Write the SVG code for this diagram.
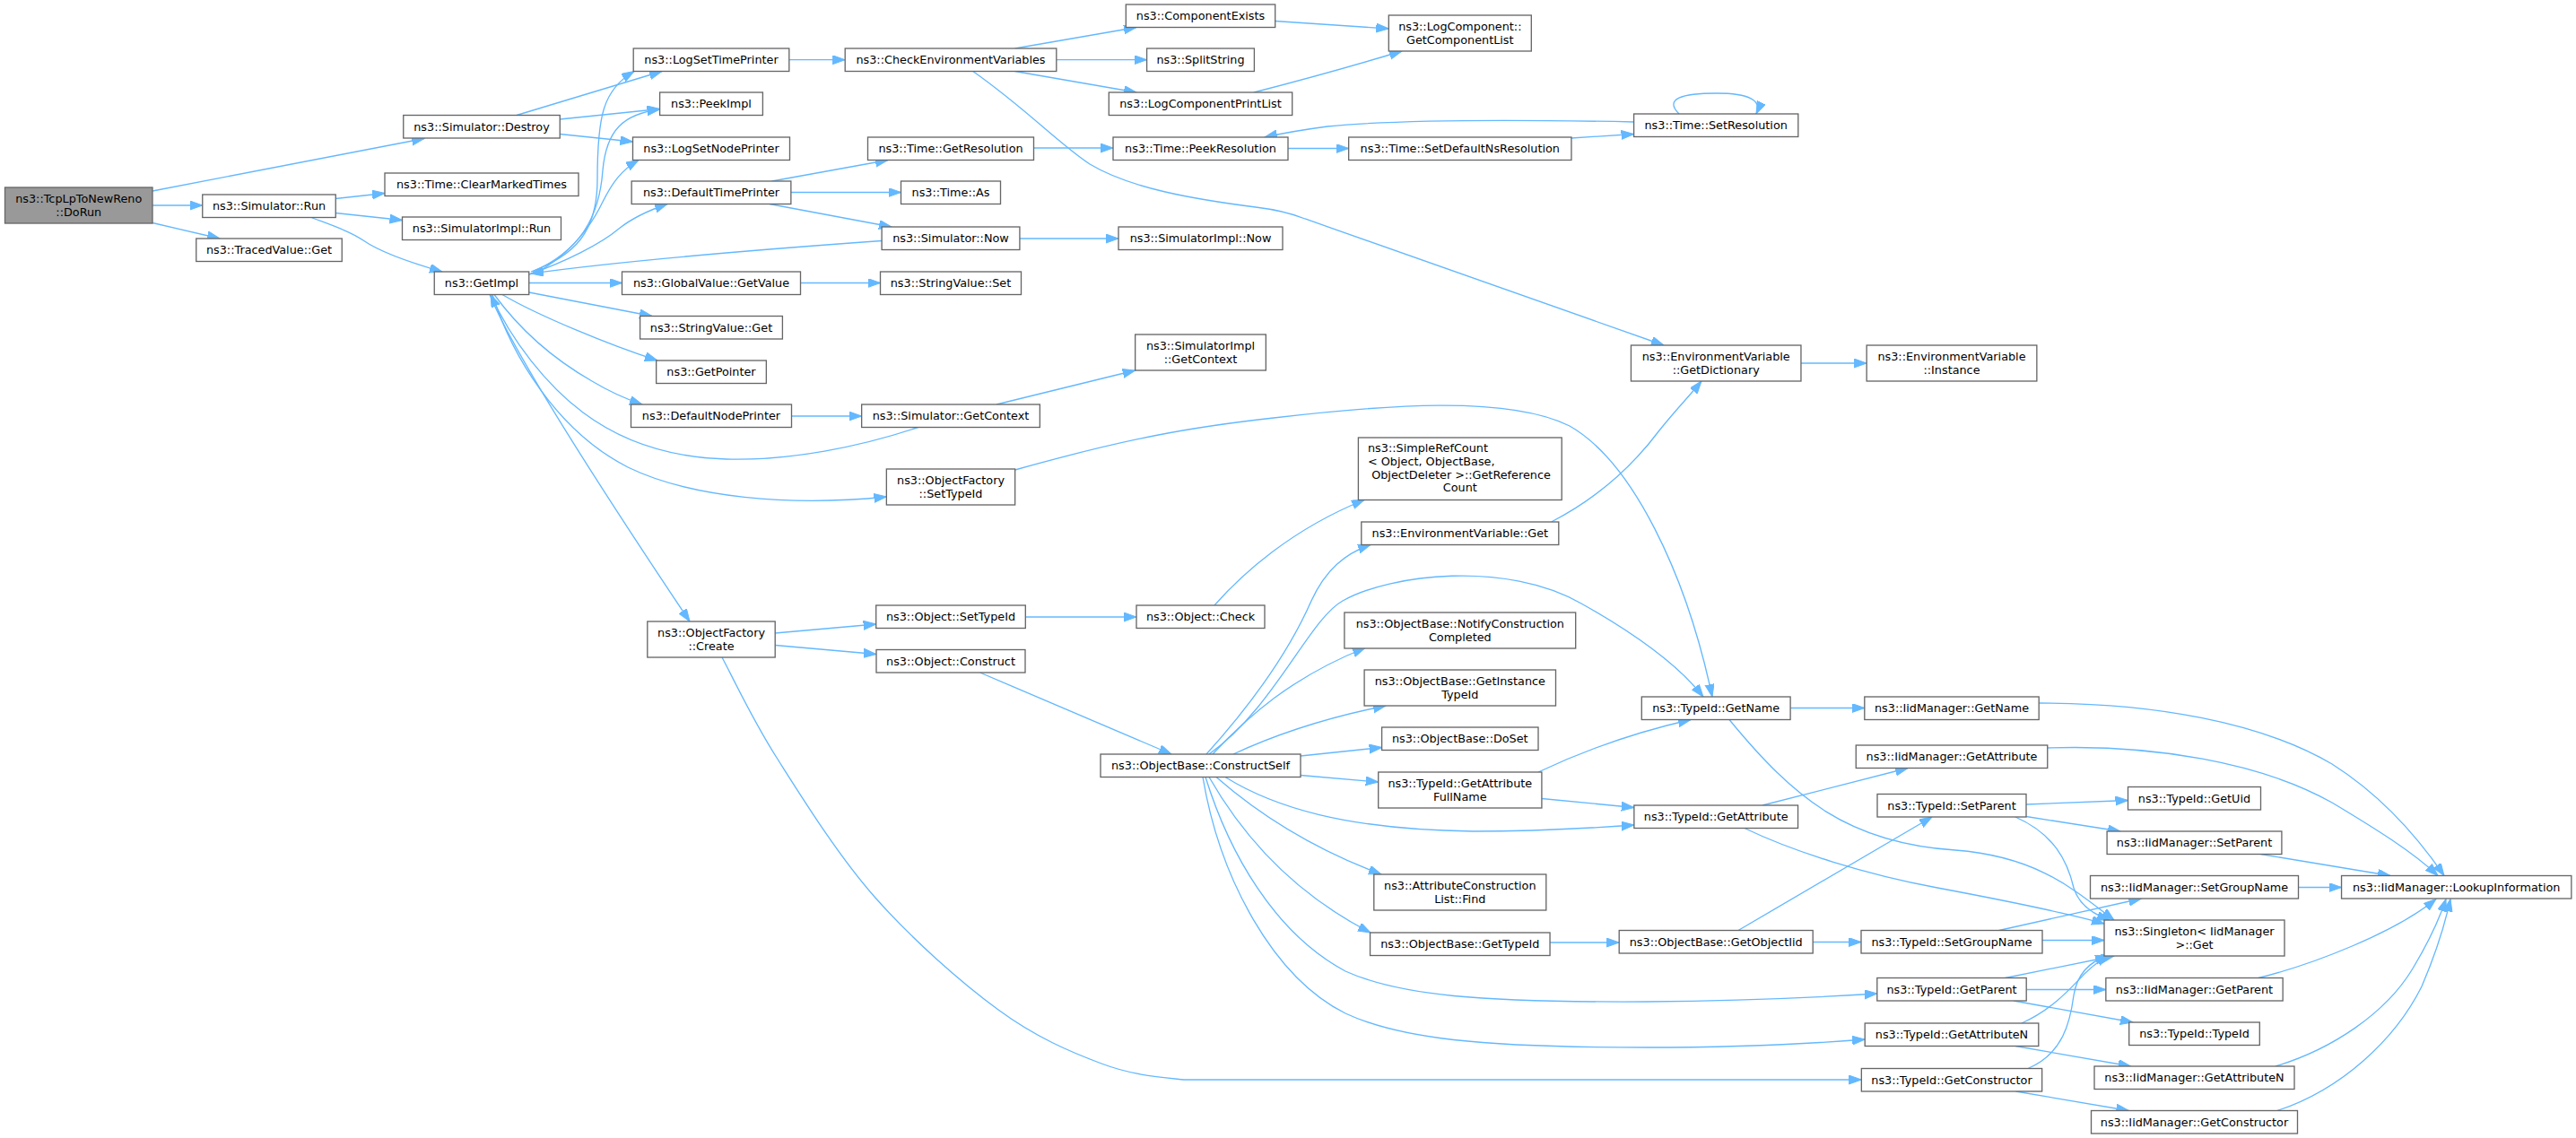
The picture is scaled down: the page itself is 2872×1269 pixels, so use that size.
<svg xmlns="http://www.w3.org/2000/svg" width="2872" height="1269" viewBox="0 0 2872 1269">
<defs>
<marker id="ah" markerUnits="userSpaceOnUse" markerWidth="15" markerHeight="11" refX="14" refY="5" orient="auto">
<path d="M0,0 L14,5 L0,10 z" fill="#63B8FF" stroke="#63B8FF" stroke-width="1"/>
</marker>
<style>
.n rect{fill:#fff;stroke:#666;stroke-width:1.33}
.root rect{fill:#999}
text{font-family:"DejaVu Sans","Liberation Sans",sans-serif;font-size:12.8px;fill:#000;text-anchor:middle}
text.l{text-anchor:start}
#edges path{fill:none;stroke:#63B8FF;stroke-width:1.33;marker-end:url(#ah)}
</style>
</defs>
<rect width="2872" height="1269" fill="#fff"/>
<g id="edges">
<path d="M170,213 L473,154.5"/>
<path d="M170,229 L225.75,229"/>
<path d="M170,248.5 L245,266"/>
<path d="M374,221.5 L429,215.5"/>
<path d="M374,237.5 L448.5,245.5"/>
<path d="M347,242.5 C372,252 390,258 405,268 C425,282 465,295 493,303"/>
<path d="M576,128.5 L738,79.5"/>
<path d="M624.25,133 L735.6,121.5"/>
<path d="M624.25,149.5 L705.5,158"/>
<path d="M592,303 C640,285 666,260 666,200 C666,130 672,100 707,79.5"/>
<path d="M594,303 C645,280 668,245 672,190 C676,145 695,127 735.6,122"/>
<path d="M600,303 C640,280 660,250 672,225 C682,205 692,190 712,178.5"/>
<path d="M590,306 C630,292 670,272 690,255 C705,243 725,234 744,227.5"/>
<path d="M983,268.5 C850,278 700,290 592,305"/>
<path d="M589.75,315.5 L693.5,315.5"/>
<path d="M589.75,326 L727,352.5"/>
<path d="M560,328.5 C600,352 680,385 733,402"/>
<path d="M551,328.5 C585,375 625,405 660,425 C680,437 698,445 716,451"/>
<path d="M1023.6,476.5 C960,498 880,514 810,512 C740,510 690,490 650,460 C610,430 570,380 547,328.5"/>
<path d="M549,328.5 C570,395 620,480 700,521 C770,555 880,565 988.35,554"/>
<path d="M546,328.5 C575,400 700,590 769,693"/>
<path d="M882.5,464 L960.65,464"/>
<path d="M1111,451 L1265.65,413"/>
<path d="M1131.65,524 C1260,488 1330,476 1420,466 C1540,452 1680,440 1750,475 C1820,515 1880,640 1909,777"/>
<path d="M864.2,706 L976.7,696"/>
<path d="M864.2,719.5 L977,729.5"/>
<path d="M805,733 C815.2,751.7 837.7,800.5 866,845 C894.3,889.5 933.8,953.2 975,1000 C1016.2,1046.8 1070.8,1095 1113,1126 C1155.2,1157 1193.5,1173 1228,1186 C1262.5,1199 1291.3,1201 1320,1204 L2075.35,1204"/>
<path d="M1143.3,688 L1267,688"/>
<path d="M1354,675 C1385,640 1440,590 1521,557.5"/>
<path d="M1092.6,750 L1306,841"/>
<path d="M1345,841 C1400,780 1440,720 1462,670 C1478,635 1500,617 1528,607.5"/>
<path d="M1348,841 C1420,790 1460,690 1497,670 C1550,640 1680,625 1763,673 C1820,705 1870,740 1899,777"/>
<path d="M1352,841 C1390,800 1440,755 1522,722.5"/>
<path d="M1375,841 C1420,820 1480,800 1545,787"/>
<path d="M1450,843 L1540.6,833.5"/>
<path d="M1450,864.5 L1536.7,872"/>
<path d="M1366,866.5 C1420,900 1500,925 1642,927 C1720,927 1780,923 1821.85,920"/>
<path d="M1356,866.5 C1400,905 1460,945 1540,975"/>
<path d="M1348,866.5 C1390,940 1450,1000 1528,1040"/>
<path d="M1344,866.5 C1370,950 1420,1040 1500,1083 C1560,1110 1650,1118 1836,1117 C1950,1116 2030,1112 2092.8,1108"/>
<path d="M1341,866.5 C1360,980 1420,1090 1500,1130 C1560,1158 1650,1168 1836,1168 C1950,1168 2030,1163 2079.2,1159"/>
<path d="M879.8,66.7 L942.2,66.7"/>
<path d="M1131.6,54 L1267,30.5"/>
<path d="M1177.8,66.7 L1278.6,66.7"/>
<path d="M1131.6,79.5 L1267,103"/>
<path d="M1084.8,79.5 C1145,122 1180,160 1215,183 C1260,210 1330,222 1400,231 C1425,234 1440,238 1455,244 L1855,385"/>
<path d="M1421.7,23.5 L1548.3,32"/>
<path d="M1398,103 C1460,87 1520,70 1563,57"/>
<path d="M1152.5,165 L1241,165"/>
<path d="M1436,165.5 L1503.65,165.5"/>
<path d="M1751.95,154 L1821.6,149.5"/>
<path d="M1821.6,136 C1700,133.5 1560,133 1480,141 C1450,145 1428,149 1410,153"/>
<path d="M1872,127 C1855,110 1875,104 1914,104 C1950,104 1965,112 1958,127"/>
<path d="M1136.9,266 L1247,266"/>
<path d="M892.5,315.5 L981.5,315.5"/>
<path d="M860.7,202 L990,178.5"/>
<path d="M881.85,214.5 L1004.5,214.5"/>
<path d="M858,227.5 L994,253"/>
<path d="M1729.6,582 C1780,556 1820,520 1850,480 C1870,455 1885,440 1897,425"/>
<path d="M2007.95,405 L2081.15,405"/>
<path d="M1996.1,789.5 L2078.8,789.5"/>
<path d="M1928,802.5 C2000,890 2060,940 2180,948 C2270,955 2310,990 2357,1026"/>
<path d="M2273.2,784 C2400,784 2520,805 2600,852 C2660,890 2700,940 2725,976.5"/>
<path d="M2282.75,834 C2400,830 2520,850 2600,895 C2650,925 2690,950 2718,976.5"/>
<path d="M1715,861 C1770,835 1830,815 1885,802.5"/>
<path d="M1718.9,890.5 L1821.85,900.5"/>
<path d="M1965,898 L2127,856.5"/>
<path d="M1945,923.5 C2000,950 2080,975 2160,990 C2240,1005 2300,1017 2346,1030"/>
<path d="M1728.05,1051 L1805.2,1051"/>
<path d="M1938,1037.5 L2154,911"/>
<path d="M2021.2,1050.5 L2075,1050.5"/>
<path d="M2259,897 L2372.5,892.5"/>
<path d="M2259,910.5 L2364,927"/>
<path d="M2247,911 C2290,930 2305,960 2312,990 C2318,1010 2335,1020 2352,1026"/>
<path d="M2520.4,952.5 L2665,976.5"/>
<path d="M2228.7,1037.5 L2387.4,1002"/>
<path d="M2277,1048.5 L2346,1048.5"/>
<path d="M2562.5,989.5 L2610.55,989.5"/>
<path d="M2235.7,1090.5 L2357,1066"/>
<path d="M2259.2,1103.5 L2347.85,1103.5"/>
<path d="M2245,1116 L2378,1140"/>
<path d="M2518,1090.5 C2580,1075 2670,1040 2716,1002.5"/>
<path d="M2254,1141 C2290,1125 2310,1100 2325,1085 C2335,1075 2343,1070 2352,1066"/>
<path d="M2247,1166.5 L2375.7,1189"/>
<path d="M2261,1191.5 C2300,1175 2308,1140 2312,1110 C2316,1085 2330,1072 2350,1066"/>
<path d="M2247.4,1217 L2373.4,1238.5"/>
<path d="M2537,1189 C2600,1170 2660,1130 2690,1080 C2705,1055 2718,1030 2727,1002.5"/>
<path d="M2539,1238.5 C2610,1215 2670,1160 2700,1100 C2715,1065 2725,1035 2732,1002.5"/>
</g>
<g id="n_dorun" class="n root"><rect x="5.5" y="209" width="164.5" height="40"/><text x="87.75" y="225.9">ns3::TcpLpToNewReno</text><text x="87.75" y="240.6">::DoRun</text></g>
<g id="n_simrun" class="n"><rect x="225.75" y="217" width="148.5" height="25.5"/><text x="300" y="234.4">ns3::Simulator::Run</text></g>
<g id="n_tracedget" class="n"><rect x="218.75" y="266" width="162.5" height="25.5"/><text x="300" y="283.4">ns3::TracedValue::Get</text></g>
<g id="n_destroy" class="n"><rect x="449.75" y="128.5" width="174.5" height="25.5"/><text x="537" y="145.9">ns3::Simulator::Destroy</text></g>
<g id="n_clearmarked" class="n"><rect x="429" y="193" width="216" height="25.5"/><text x="537" y="210.4">ns3::Time::ClearMarkedTimes</text></g>
<g id="n_simimplrun" class="n"><rect x="448.5" y="242" width="177" height="25.5"/><text x="537" y="259.4">ns3::SimulatorImpl::Run</text></g>
<g id="n_getimpl" class="n"><rect x="484.25" y="303" width="105.5" height="25.5"/><text x="537" y="320.4">ns3::GetImpl</text></g>
<g id="n_logsettime" class="n"><rect x="706.2" y="54" width="173.6" height="25.5"/><text x="793" y="71.4">ns3::LogSetTimePrinter</text></g>
<g id="n_peekimpl" class="n"><rect x="735.6" y="103" width="114.8" height="25.5"/><text x="793" y="120.4">ns3::PeekImpl</text></g>
<g id="n_logsetnode" class="n"><rect x="705.5" y="153" width="175" height="25.5"/><text x="793" y="170.4">ns3::LogSetNodePrinter</text></g>
<g id="n_deftime" class="n"><rect x="704.15" y="202" width="177.7" height="25.5"/><text x="793" y="219.4">ns3::DefaultTimePrinter</text></g>
<g id="n_globalgetvalue" class="n"><rect x="693.5" y="303" width="199" height="25.5"/><text x="793" y="320.4">ns3::GlobalValue::GetValue</text></g>
<g id="n_stringget" class="n"><rect x="713.6" y="352.5" width="158.8" height="25.5"/><text x="793" y="369.9">ns3::StringValue::Get</text></g>
<g id="n_getpointer" class="n"><rect x="731.65" y="402" width="122.7" height="25.5"/><text x="793" y="419.4">ns3::GetPointer</text></g>
<g id="n_defnode" class="n"><rect x="703.5" y="451" width="179" height="25.5"/><text x="793" y="468.4">ns3::DefaultNodePrinter</text></g>
<g id="n_ofcreate" class="n"><rect x="721.8" y="693" width="142.4" height="40"/><text x="793" y="709.9">ns3::ObjectFactory</text><text x="793" y="724.6">::Create</text></g>
<g id="n_checkenv" class="n"><rect x="942.2" y="54" width="235.6" height="25.5"/><text x="1060" y="71.4">ns3::CheckEnvironmentVariables</text></g>
<g id="n_getres" class="n"><rect x="967.5" y="153" width="185" height="25.5"/><text x="1060" y="170.4">ns3::Time::GetResolution</text></g>
<g id="n_timeas" class="n"><rect x="1004.5" y="202" width="111" height="25.5"/><text x="1060" y="219.4">ns3::Time::As</text></g>
<g id="n_simnow" class="n"><rect x="983.1" y="253" width="153.8" height="25.5"/><text x="1060" y="270.4">ns3::Simulator::Now</text></g>
<g id="n_stringset" class="n"><rect x="981.5" y="303" width="157" height="25.5"/><text x="1060" y="320.4">ns3::StringValue::Set</text></g>
<g id="n_simgetctx" class="n"><rect x="960.65" y="451" width="198.7" height="25.5"/><text x="1060" y="468.4">ns3::Simulator::GetContext</text></g>
<g id="n_ofsettypeid" class="n"><rect x="988.35" y="523" width="143.3" height="40"/><text x="1060" y="539.9">ns3::ObjectFactory</text><text x="1060" y="554.6">::SetTypeId</text></g>
<g id="n_objsettypeid" class="n"><rect x="976.7" y="675" width="166.6" height="25.5"/><text x="1060" y="692.4">ns3::Object::SetTypeId</text></g>
<g id="n_objconstruct" class="n"><rect x="977" y="724.5" width="166" height="25.5"/><text x="1060" y="741.9">ns3::Object::Construct</text></g>
<g id="n_compexists" class="n"><rect x="1255.3" y="5" width="166.4" height="25.5"/><text x="1338.5" y="22.4">ns3::ComponentExists</text></g>
<g id="n_splitstring" class="n"><rect x="1278.6" y="54" width="119.8" height="25.5"/><text x="1338.5" y="71.4">ns3::SplitString</text></g>
<g id="n_logcompprint" class="n"><rect x="1236.3" y="103" width="204.4" height="25.5"/><text x="1338.5" y="120.4">ns3::LogComponentPrintList</text></g>
<g id="n_peekres" class="n"><rect x="1241" y="153" width="195" height="25.5"/><text x="1338.5" y="170.4">ns3::Time::PeekResolution</text></g>
<g id="n_simimplnow" class="n"><rect x="1247" y="253" width="183" height="25.5"/><text x="1338.5" y="270.4">ns3::SimulatorImpl::Now</text></g>
<g id="n_simimplgetctx" class="n"><rect x="1265.65" y="373" width="145.7" height="40"/><text x="1338.5" y="389.9">ns3::SimulatorImpl</text><text x="1338.5" y="404.6">::GetContext</text></g>
<g id="n_objcheck" class="n"><rect x="1267" y="675" width="143" height="25.5"/><text x="1338.5" y="692.4">ns3::Object::Check</text></g>
<g id="n_constructself" class="n"><rect x="1227" y="841" width="223" height="25.5"/><text x="1338.5" y="858.4">ns3::ObjectBase::ConstructSelf</text></g>
<g id="n_getcomplist" class="n"><rect x="1548.3" y="17" width="159" height="40"/><text x="1627.8" y="33.9">ns3::LogComponent::</text><text x="1627.8" y="48.6">GetComponentList</text></g>
<g id="n_setdefns" class="n"><rect x="1503.65" y="153" width="248.3" height="25.5"/><text x="1627.8" y="170.4">ns3::Time::SetDefaultNsResolution</text></g>
<g id="n_simplerefcount" class="n"><rect x="1514.4" y="488" width="226.8" height="69.5"/><text class="l" x="1525" y="504.1">ns3::SimpleRefCount</text><text class="l" x="1525" y="518.8">&lt; Object, ObjectBase,</text><text x="1629" y="533.5">ObjectDeleter &gt;::GetReference</text><text x="1627.8" y="548.2">Count</text></g>
<g id="n_envget" class="n"><rect x="1517.8" y="582" width="220" height="25.5"/><text x="1627.8" y="599.4">ns3::EnvironmentVariable::Get</text></g>
<g id="n_notify" class="n"><rect x="1498.9" y="683" width="257.8" height="40"/><text x="1627.8" y="699.9">ns3::ObjectBase::NotifyConstruction</text><text x="1627.8" y="714.6">Completed</text></g>
<g id="n_getinsttypeid" class="n"><rect x="1521.1" y="747" width="213.4" height="40"/><text x="1627.8" y="763.9">ns3::ObjectBase::GetInstance</text><text x="1627.8" y="778.6">TypeId</text></g>
<g id="n_doset" class="n"><rect x="1540.6" y="811" width="174.4" height="25.5"/><text x="1627.8" y="828.4">ns3::ObjectBase::DoSet</text></g>
<g id="n_getattrfullname" class="n"><rect x="1536.7" y="861" width="182.2" height="40"/><text x="1627.8" y="877.9">ns3::TypeId::GetAttribute</text><text x="1627.8" y="892.6">FullName</text></g>
<g id="n_attrconstrfind" class="n"><rect x="1531.8" y="975" width="192" height="40"/><text x="1627.8" y="991.9">ns3::AttributeConstruction</text><text x="1627.8" y="1006.6">List::Find</text></g>
<g id="n_obgettypeid" class="n"><rect x="1527.55" y="1040" width="200.5" height="25.5"/><text x="1627.8" y="1057.4">ns3::ObjectBase::GetTypeId</text></g>
<g id="n_setres" class="n"><rect x="1821.6" y="127" width="183.2" height="25.5"/><text x="1913.2" y="144.4">ns3::Time::SetResolution</text></g>
<g id="n_getdict" class="n"><rect x="1818.45" y="385" width="189.5" height="40"/><text x="1913.2" y="401.9">ns3::EnvironmentVariable</text><text x="1913.2" y="416.6">::GetDictionary</text></g>
<g id="n_tidgetname" class="n"><rect x="1830.3" y="777" width="165.8" height="25.5"/><text x="1913.2" y="794.4">ns3::TypeId::GetName</text></g>
<g id="n_tidgetattr" class="n"><rect x="1821.85" y="898" width="182.7" height="25.5"/><text x="1913.2" y="915.4">ns3::TypeId::GetAttribute</text></g>
<g id="n_getobjiid" class="n"><rect x="1805.2" y="1037.5" width="216" height="25.5"/><text x="1913.2" y="1054.9">ns3::ObjectBase::GetObjectIid</text></g>
<g id="n_envinstance" class="n"><rect x="2081.15" y="385" width="189.7" height="40"/><text x="2176" y="401.9">ns3::EnvironmentVariable</text><text x="2176" y="416.6">::Instance</text></g>
<g id="n_iidgetname" class="n"><rect x="2078.8" y="777" width="194.4" height="25.5"/><text x="2176" y="794.4">ns3::IidManager::GetName</text></g>
<g id="n_iidgetattr" class="n"><rect x="2069.25" y="831" width="213.5" height="25.5"/><text x="2176" y="848.4">ns3::IidManager::GetAttribute</text></g>
<g id="n_tidsetparent" class="n"><rect x="2093" y="885.5" width="166" height="25.5"/><text x="2176" y="902.9">ns3::TypeId::SetParent</text></g>
<g id="n_tidsetgroup" class="n"><rect x="2075" y="1037.5" width="202" height="25.5"/><text x="2176" y="1054.9">ns3::TypeId::SetGroupName</text></g>
<g id="n_tidgetparent" class="n"><rect x="2092.8" y="1090.5" width="166.4" height="25.5"/><text x="2176" y="1107.9">ns3::TypeId::GetParent</text></g>
<g id="n_tidgetattrn" class="n"><rect x="2079.2" y="1141" width="193.6" height="25.5"/><text x="2176" y="1158.4">ns3::TypeId::GetAttributeN</text></g>
<g id="n_tidgetctor" class="n"><rect x="2075.35" y="1191.5" width="201.3" height="25.5"/><text x="2176" y="1208.9">ns3::TypeId::GetConstructor</text></g>
<g id="n_tidgetuid" class="n"><rect x="2372.5" y="877.5" width="148" height="25.5"/><text x="2446.5" y="894.9">ns3::TypeId::GetUid</text></g>
<g id="n_iidsetparent" class="n"><rect x="2349.1" y="927" width="194.8" height="25.5"/><text x="2446.5" y="944.4">ns3::IidManager::SetParent</text></g>
<g id="n_iidsetgroup" class="n"><rect x="2330.5" y="976.5" width="232" height="25.5"/><text x="2446.5" y="993.9">ns3::IidManager::SetGroupName</text></g>
<g id="n_singleton" class="n"><rect x="2346" y="1026" width="201" height="40"/><text x="2446.5" y="1042.9">ns3::Singleton&lt; IidManager</text><text x="2446.5" y="1057.6">&gt;::Get</text></g>
<g id="n_iidgetparent" class="n"><rect x="2347.85" y="1090.5" width="197.3" height="25.5"/><text x="2446.5" y="1107.9">ns3::IidManager::GetParent</text></g>
<g id="n_tidtypeid" class="n"><rect x="2373.7" y="1140" width="145.6" height="25.5"/><text x="2446.5" y="1157.4">ns3::TypeId::TypeId</text></g>
<g id="n_iidgetattrn" class="n"><rect x="2335" y="1189" width="223" height="25.5"/><text x="2446.5" y="1206.4">ns3::IidManager::GetAttributeN</text></g>
<g id="n_iidgetctor" class="n"><rect x="2331.5" y="1238.5" width="230" height="25.5"/><text x="2446.5" y="1255.9">ns3::IidManager::GetConstructor</text></g>
<g id="n_lookup" class="n"><rect x="2610.55" y="976.5" width="256.3" height="25.5"/><text x="2738.7" y="993.9">ns3::IidManager::LookupInformation</text></g>
</svg>
